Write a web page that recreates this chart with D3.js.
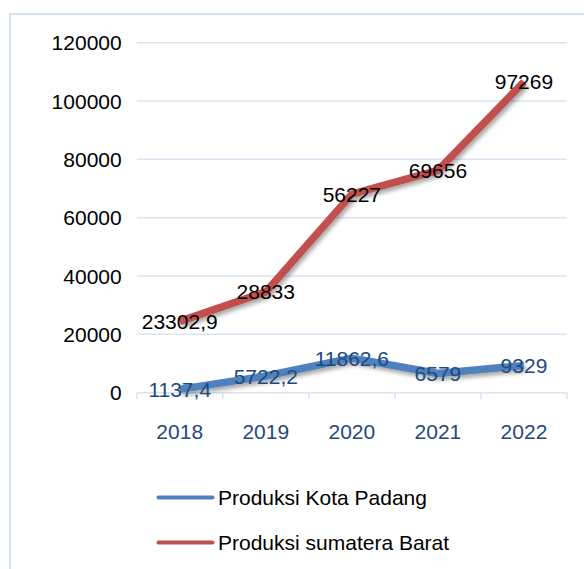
<!DOCTYPE html>
<html>
<head>
<meta charset="utf-8">
<script src="https://cdn.jsdelivr.net/npm/d3@7"></script>
<style>
    html, body { margin: 0; padding: 0; background: #fff; }
    svg { display: block; font-family: "Liberation Sans", Arial, sans-serif; }
</style>
</head>
<body>
<div id="chart"></div>
<script>
/**
 * Produksi Kota Padang vs Sumatera Barat (stacked line)
 */

const YEARS = ["2018", "2019", "2020", "2021", "2022"];
const PADANG = [1137.4, 5722.2, 11862.6, 6579, 9329];
const SUMBAR = [23302.9, 28833, 56227, 69656, 97269];
const Y_TICKS = [0, 20000, 40000, 60000, 80000, 100000, 120000];

const SERIES = [
    { name: "Produksi Kota Padang", values: PADANG, color: "#4f81bd", labelColor: "#1f497d" },
    { name: "Produksi sumatera Barat", values: SUMBAR, color: "#c0504d", labelColor: "#000000" }
];

const fmt = v => String(v).replace(".", ",");

const createChart = () => {
    const width = 584;
    const height = 569;
    const marginLeft = 136.7;
    const marginRight = 17;
    const marginTop = 42.7;
    const plotBottom = 392.7;

    const svg = d3.select("#chart").append("svg")
        .attr("width", width)
        .attr("height", height);

    const defs = svg.append("defs");
    const f = defs.append("filter").attr("id", "shadow")
        .attr("x", "-10%").attr("y", "-10%").attr("width", "130%").attr("height", "140%");
    f.append("feDropShadow")
        .attr("dx", 2).attr("dy", 3).attr("stdDeviation", 2)
        .attr("flood-color", "#000").attr("flood-opacity", 0.35);

    // outer frame (right/bottom run off the picture)
    svg.append("rect")
        .attr("x", 10).attr("y", 14)
        .attr("width", 700).attr("height", 700)
        .attr("fill", "none")
        .attr("stroke", "#d5e2f3")
        .attr("stroke-width", 2);

    const x = d3.scaleBand()
        .domain(YEARS)
        .range([marginLeft, width - marginRight]);

    const y = d3.scaleLinear()
        .domain([0, 120000])
        .range([plotBottom, marginTop]);

    // gridlines
    svg.append("g")
        .selectAll("line")
        .data(Y_TICKS)
        .join("line")
        .attr("x1", marginLeft)
        .attr("x2", width - marginRight)
        .attr("y1", d => y(d))
        .attr("y2", d => y(d))
        .attr("stroke", "#d9e3f2")
        .attr("stroke-width", 1.5);

    // y labels
    svg.append("g")
        .selectAll("text")
        .data(Y_TICKS)
        .join("text")
        .attr("x", 121.7)
        .attr("y", d => y(d))
        .attr("dy", "0.36em")
        .attr("text-anchor", "end")
        .attr("font-size", 21)
        .attr("fill", "#000")
        .text(d => d);

    // category tick marks on the x axis
    const boundaries = YEARS.map(d => x(d)).concat([x(YEARS[YEARS.length - 1]) + x.bandwidth()]);
    svg.append("g")
        .selectAll("line")
        .data(boundaries)
        .join("line")
        .attr("x1", d => d).attr("x2", d => d)
        .attr("y1", plotBottom).attr("y2", plotBottom + 6.5)
        .attr("stroke", "#d9e3f2")
        .attr("stroke-width", 1.5);

    // x labels
    svg.append("g")
        .selectAll("text")
        .data(YEARS)
        .join("text")
        .attr("x", d => x(d) + x.bandwidth() / 2)
        .attr("y", 431.3)
        .attr("dy", "0.36em")
        .attr("text-anchor", "middle")
        .attr("font-size", 21)
        .attr("fill", "#1f497d")
        .text(d => d);

    // stacked cumulative values
    const stacked = SERIES.map((s, i) => ({
        ...s,
        points: YEARS.map((yr, j) => ({
            year: yr,
            value: s.values[j],
            total: SERIES.slice(0, i + 1).reduce((acc, t) => acc + t.values[j], 0)
        }))
    }));

    const line = d3.line()
        .x(d => x(d.year) + x.bandwidth() / 2)
        .y(d => y(d.total));

    svg.append("g")
        .selectAll("path")
        .data(stacked)
        .join("path")
        .attr("d", s => line(s.points))
        .attr("fill", "none")
        .attr("stroke", s => s.color)
        .attr("stroke-width", 7.5)
        .attr("stroke-linejoin", "round")
        .attr("filter", "url(#shadow)");

    // data labels, centred on each point
    stacked.forEach(s => {
        svg.append("g")
            .selectAll("text")
            .data(s.points)
            .join("text")
            .attr("x", d => x(d.year) + x.bandwidth() / 2)
            .attr("y", d => y(d.total))
            .attr("dy", "0.36em")
            .attr("text-anchor", "middle")
            .attr("font-size", 21)
            .attr("fill", s.labelColor)
            .text(d => fmt(d.value));
    });

    // legend
    const legend = svg.append("g")
        .selectAll("g")
        .data(SERIES)
        .join("g")
        .attr("transform", (d, i) => `translate(158.5,${497.6 + i * 44.8})`);

    legend.append("line")
        .attr("x1", 0).attr("x2", 54)
        .attr("stroke", d => d.color)
        .attr("stroke-width", 4)
        .attr("stroke-linecap", "round");

    legend.append("text")
        .attr("x", 59.5)
        .attr("dy", "0.36em")
        .attr("font-size", 21)
        .attr("fill", "#000")
        .text(d => d.name);
}

window.addEventListener("DOMContentLoaded", () => {
    createChart();
}, {once: true});
</script>
</body>
</html>
